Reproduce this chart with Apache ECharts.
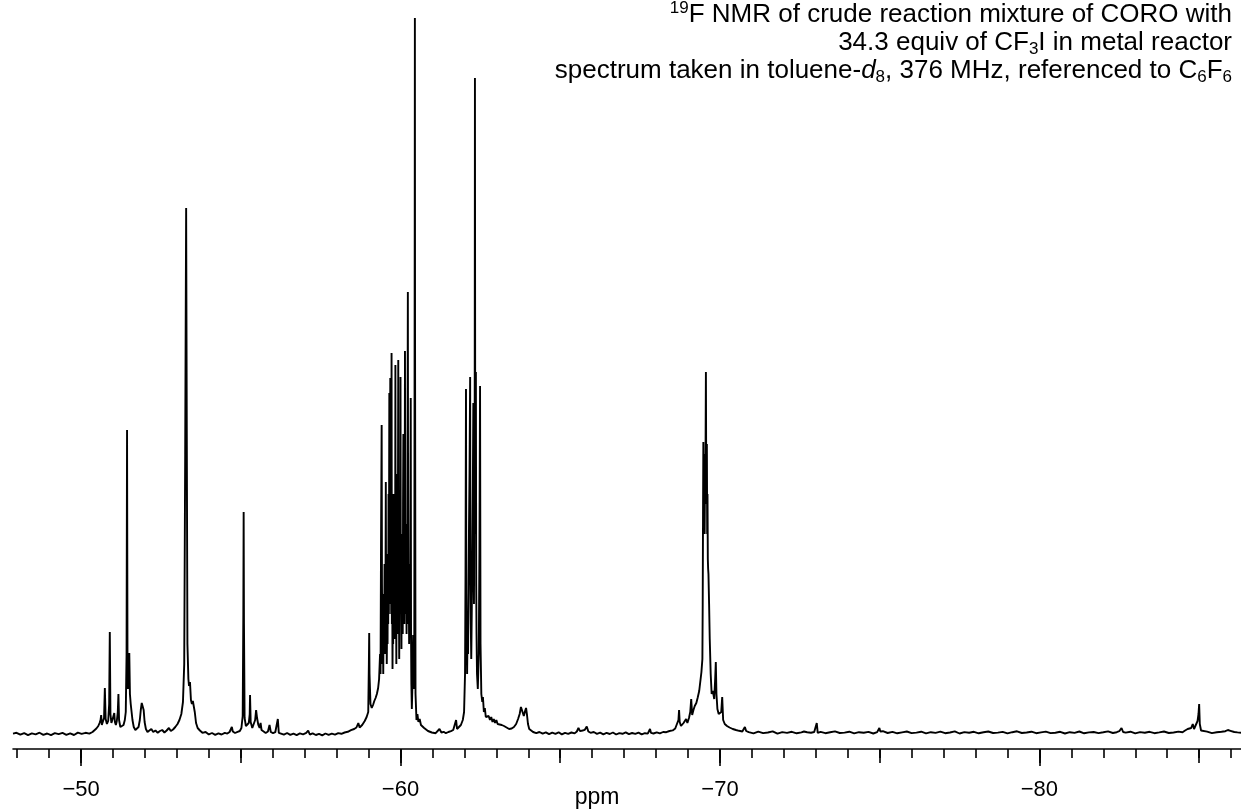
<!DOCTYPE html>
<html>
<head>
<meta charset="utf-8">
<title>19F NMR spectrum</title>
<script src="https://cdn.jsdelivr.net/npm/echarts@6/dist/echarts.min.js"></script>
<style>
  html, body { margin: 0; padding: 0; background: #fff; }
  #chart { width: 1241px; height: 812px; }
</style>
</head>
<body>
<div id="chart"></div>
<script>
// Chemical shift axis (ppm) and tick positions
const minorTicks = [-48, -49, -50, -51, -52, -53, -54, -55, -56, -57, -58, -59, -60, -61, -62, -63, -64, -65, -66, -67,
  -68, -69, -70, -71, -72, -73, -74, -75, -76, -77, -78, -79, -80, -81, -82, -83, -84, -85, -86];
const midTicks = [-50, -55, -60, -65, -70, -75, -80, -85];
const majorTicks = [-50, -60, -70, -80];

// Spectrum trace: [shift in ppm, intensity in a.u.], ordered from low field to high field
const baselineLow = [
  [-47.87, 0.4], [-47.98, 1.2], [-48.1, -0.7], [-48.22, 0.9], [-48.34, -1.1], [-48.46, 0.6], [-48.58, -0.3],
  [-48.7, 1.3], [-48.82, -0.9], [-48.94, 0.5], [-49.06, -1.2], [-49.18, 0.8], [-49.3, -0.2], [-49.42, 1.1],
  [-49.54, -0.8], [-49.66, 0.6], [-49.78, -1.0], [-49.9, 1.4], [-50.02, 0.1], [-50.14, 1.2], [-50.26, 0.4], [-50.36, 2.0]
];
const group51 = [
  [-50.42, 3.0], [-50.48, 5.5], [-50.54, 8], [-50.58, 11], [-50.61, 14], [-50.63, 19], [-50.65, 9], [-50.68, 12],
  [-50.72, 16], [-50.745, 46], [-50.77, 15], [-50.81, 10], [-50.85, 13], [-50.88, 30], [-50.9, 102], [-50.92, 20],
  [-50.95, 11], [-50.99, 15], [-51.02, 14], [-51.04, 21], [-51.06, 12], [-51.09, 9], [-51.12, 13], [-51.15, 22],
  [-51.17, 40], [-51.19, 14], [-51.23, 7], [-51.28, 6], [-51.33, 9], [-51.37, 14], [-51.4, 22], [-51.425, 80],
  [-51.44, 304], [-51.455, 60], [-51.47, 45], [-51.49, 55], [-51.51, 81], [-51.53, 40], [-51.555, 30], [-51.58, 32],
  [-51.61, 14], [-51.65, 7], [-51.7, 4], [-51.75, 3], [-51.8, 7], [-51.84, 14], [-51.87, 24], [-51.9, 31],
  [-51.93, 33], [-51.96, 24], [-51.99, 12], [-52.03, 5], [-52.08, 2], [-52.14, 3.5], [-52.2, 5], [-52.26, 2],
  [-52.33, 3.5], [-52.4, 1.2], [-52.47, 3], [-52.54, 4], [-52.61, 1.5], [-52.68, 3.5], [-52.75, 6], [-52.81, 3],
  [-52.88, 4.5], [-52.95, 7], [-53.02, 10], [-53.08, 14], [-53.14, 20], [-53.19, 32], [-53.23, 70], [-53.26, 280],
  [-53.29, 526], [-53.31, 300], [-53.33, 90], [-53.36, 55], [-53.38, 48], [-53.41, 52], [-53.44, 34], [-53.47, 30],
  [-53.5, 33], [-53.53, 35], [-53.56, 22], [-53.6, 11], [-53.65, 6]
];
const group55 = [
  [-53.72, 3.5], [-53.8, 1.2], [-53.9, 2.0], [-54.0, -0.4], [-54.1, 1.0], [-54.2, -0.8], [-54.3, 0.7], [-54.4, -0.5],
  [-54.5, 1.1], [-54.58, 0.4], [-54.65, 2.0], [-54.69, 4], [-54.72, 7], [-54.75, 2.5], [-54.82, 1.0], [-54.9, 2.2],
  [-54.97, 3.0], [-55.02, 6], [-55.06, 18], [-55.08, 120], [-55.09, 222], [-55.1, 110], [-55.12, 16], [-55.16, 8],
  [-55.21, 6], [-55.25, 11], [-55.28, 20], [-55.29, 39], [-55.31, 12], [-55.36, 6], [-55.41, 8], [-55.45, 14],
  [-55.48, 24], [-55.51, 16], [-55.55, 9], [-55.59, 6], [-55.62, 11], [-55.65, 4], [-55.71, 2], [-55.78, 1.0],
  [-55.85, 2.5], [-55.9, 9], [-55.94, 2], [-56.01, 0.8], [-56.08, 1.8], [-56.13, 3.5], [-56.16, 15], [-56.19, 1.2]
];
const baselineMid = [
  [-56.25, 0.8], [-56.35, -0.6], [-56.45, 1.0], [-56.55, -0.9], [-56.65, 0.4], [-56.75, -1.1], [-56.85, 0.6],
  [-56.95, -0.3], [-57.05, 1.2], [-57.11, 3.5], [-57.16, -0.5], [-57.25, 0.7], [-57.35, -1.0], [-57.45, 0.2],
  [-57.55, -1.3], [-57.65, 0.5], [-57.75, -0.9], [-57.85, 0.4], [-57.95, -0.6], [-58.05, 0.9], [-58.15, 0.2],
  [-58.25, 1.5], [-58.35, 2.2], [-58.45, 3.8], [-58.55, 5.0], [-58.62, 6.5], [-58.68, 11], [-58.72, 6.5],
  [-58.8, 9], [-58.88, 13], [-58.94, 17], [-58.99, 22], [-59.01, 70], [-59.02, 101], [-59.03, 60]
];
const cluster60 = [
  [-59.06, 30], [-59.1, 26], [-59.14, 29], [-59.18, 33], [-59.22, 36], [-59.26, 40], [-59.3, 46], [-59.33, 55],
  [-59.36, 80], [-59.375, 60], [-59.39, 190], [-59.41, 309], [-59.42, 150], [-59.435, 70], [-59.45, 110],
  [-59.46, 60], [-59.475, 140], [-59.49, 90], [-59.5, 170], [-59.515, 80], [-59.53, 140], [-59.54, 252],
  [-59.55, 120], [-59.56, 160], [-59.57, 70], [-59.585, 130], [-59.595, 90], [-59.605, 180], [-59.615, 110],
  [-59.625, 240], [-59.635, 120], [-59.65, 341], [-59.66, 150], [-59.67, 250], [-59.68, 356], [-59.69, 130],
  [-59.7, 210], [-59.71, 120], [-59.72, 381], [-59.73, 110], [-59.74, 160], [-59.75, 65], [-59.76, 140],
  [-59.77, 90], [-59.78, 240], [-59.79, 120], [-59.8, 190], [-59.81, 95], [-59.82, 150], [-59.83, 110],
  [-59.84, 369], [-59.85, 100], [-59.86, 150], [-59.87, 70], [-59.88, 260], [-59.89, 120], [-59.9, 190],
  [-59.91, 100], [-59.93, 374], [-59.94, 110], [-59.95, 140], [-59.96, 75], [-59.97, 160], [-59.98, 220],
  [-59.99, 130], [-60.0, 357], [-60.01, 120], [-60.02, 160], [-60.03, 85], [-60.04, 200], [-60.05, 130],
  [-60.06, 170], [-60.07, 100], [-60.08, 230], [-60.09, 300], [-60.1, 120], [-60.11, 170], [-60.12, 110],
  [-60.13, 200], [-60.14, 383], [-60.15, 140], [-60.16, 210], [-60.17, 120], [-60.18, 160], [-60.19, 100],
  [-60.2, 190], [-60.21, 130], [-60.23, 442], [-60.24, 150], [-60.25, 110], [-60.26, 140], [-60.27, 90],
  [-60.28, 170], [-60.29, 110], [-60.3, 130], [-60.32, 336], [-60.33, 100], [-60.34, 50], [-60.355, 25],
  [-60.37, 45], [-60.385, 80], [-60.395, 99], [-60.41, 50], [-60.43, 45], [-60.445, 500], [-60.45, 716],
  [-60.455, 400], [-60.47, 40]
];
const baseline61 = [
  [-60.5, 14], [-60.53, 20], [-60.56, 12], [-60.6, 15], [-60.64, 9], [-60.69, 11], [-60.74, 6], [-60.8, 7],
  [-60.86, 3], [-60.92, 4.5], [-60.98, 1.5], [-61.04, 3], [-61.1, 0.8], [-61.16, 2.5], [-61.22, 5], [-61.28, 1.5],
  [-61.35, 2.2], [-61.42, 0.8], [-61.5, 2], [-61.58, 2.8], [-61.65, 4], [-61.71, 5], [-61.74, 14], [-61.77, 5],
  [-61.83, 7], [-61.89, 9], [-61.95, 14], [-61.99, 22]
];
const cluster62 = [
  [-62.02, 60], [-62.035, 160], [-62.05, 345], [-62.06, 140], [-62.07, 100], [-62.085, 60], [-62.1, 110],
  [-62.115, 80], [-62.13, 150], [-62.145, 210], [-62.16, 260], [-62.18, 357], [-62.19, 150], [-62.2, 110],
  [-62.215, 75], [-62.23, 120], [-62.245, 170], [-62.265, 250], [-62.28, 331], [-62.29, 170], [-62.3, 130],
  [-62.31, 240], [-62.32, 200], [-62.33, 656], [-62.34, 230], [-62.35, 200], [-62.36, 362], [-62.37, 150],
  [-62.38, 100], [-62.395, 60], [-62.42, 45], [-62.45, 80], [-62.47, 180], [-62.49, 348], [-62.505, 90],
  [-62.53, 40], [-62.56, 32], [-62.58, 37], [-62.61, 22], [-62.64, 26], [-62.67, 17], [-62.7, 19], [-62.73, 15],
  [-62.76, 18], [-62.8, 14], [-62.84, 17], [-62.88, 12], [-62.92, 15], [-62.96, 11], [-63.0, 14], [-63.04, 10],
  [-63.1, 11], [-63.17, 9], [-63.24, 8], [-63.32, 6.5], [-63.4, 5], [-63.48, 5.5], [-63.55, 7], [-63.62, 10],
  [-63.68, 15], [-63.73, 20], [-63.77, 27], [-63.79, 29], [-63.82, 22], [-63.86, 18], [-63.9, 23], [-63.93, 26],
  [-63.96, 19], [-63.99, 10], [-64.03, 5], [-64.08, 3.5], [-64.15, 2]
];
const baseline66 = [
  [-64.25, 0.8], [-64.35, 2.0], [-64.45, 0.3], [-64.55, 1.6], [-64.65, -0.2], [-64.75, 1.3], [-64.85, 0.1],
  [-64.95, 1.7], [-65.05, -0.4], [-65.15, 1.2], [-65.25, 0.2], [-65.35, 1.5], [-65.45, 0.6], [-65.52, 2.5],
  [-65.57, 6], [-65.62, 2.8], [-65.7, 3.5], [-65.77, 4.2], [-65.83, 7.5], [-65.88, 2.5], [-65.95, 1.2],
  [-66.05, 2.0], [-66.15, 0.2], [-66.25, 1.4], [-66.35, -0.3], [-66.45, 1.1], [-66.55, 0.0], [-66.65, 1.5],
  [-66.75, -0.5], [-66.85, 0.9], [-66.95, 0.2], [-67.05, 1.6], [-67.15, -0.2], [-67.25, 1.0], [-67.35, 0.1],
  [-67.45, 1.4], [-67.55, -0.4], [-67.65, 0.8], [-67.74, 0.4], [-67.78, 1.5], [-67.81, 5], [-67.84, 1.2],
  [-67.92, 0.5], [-68.02, 1.7], [-68.12, 0.6], [-68.22, 2.0], [-68.32, 1.8], [-68.42, 3.0], [-68.52, 3.6],
  [-68.6, 5.5], [-68.66, 7]
];
const group70 = [
  [-68.7, 14], [-68.72, 24], [-68.74, 12], [-68.78, 8], [-68.82, 9], [-68.86, 11], [-68.9, 10], [-68.94, 15],
  [-68.98, 11], [-69.03, 16], [-69.07, 22], [-69.1, 35], [-69.13, 19], [-69.17, 24], [-69.21, 28], [-69.26, 31],
  [-69.3, 36], [-69.35, 43], [-69.39, 45], [-69.42, 62], [-69.45, 75], [-69.46, 130], [-69.47, 220], [-69.48, 292],
  [-69.49, 210], [-69.5, 260], [-69.51, 280], [-69.52, 200], [-69.53, 250], [-69.54, 230], [-69.55, 290],
  [-69.56, 362], [-69.57, 260], [-69.58, 230], [-69.59, 290], [-69.6, 200], [-69.61, 240], [-69.62, 175],
  [-69.63, 165], [-69.64, 160], [-69.66, 130], [-69.68, 95], [-69.71, 60], [-69.74, 40], [-69.78, 43],
  [-69.82, 35], [-69.85, 55], [-69.87, 72], [-69.89, 40], [-69.92, 25], [-69.96, 20], [-70.0, 18], [-70.04, 22],
  [-70.07, 37], [-70.1, 14], [-70.15, 10], [-70.22, 8], [-70.3, 6.5], [-70.4, 5], [-70.5, 4], [-70.6, 3.2],
  [-70.7, 2.5], [-70.75, 4], [-70.78, 7], [-70.82, 3]
];
const baselineHigh = [
  [-70.9, 1.8], [-71.05, 0.6], [-71.2, 2.4], [-71.35, 0.9], [-71.5, 1.5], [-71.65, 2.7], [-71.8, 0.4],
  [-71.95, 1.9], [-72.1, 1.1], [-72.25, 2.2], [-72.4, 0.7], [-72.55, 1.6], [-72.63, 2.5], [-72.68, 4.5],
  [-72.73, 1.8], [-72.85, 1.3], [-72.95, 2.0], [-73.0, 3.5], [-73.03, 11], [-73.06, 1.2], [-73.15, 2.1],
  [-73.3, 0.8], [-73.45, 1.7], [-73.6, 2.6], [-73.75, 1.0], [-73.9, 1.4], [-74.05, 2.3], [-74.2, 0.6],
  [-74.35, 1.8], [-74.5, 1.2], [-74.65, 2.1], [-74.8, 0.5], [-74.92, 1.9], [-74.96, 3.0], [-74.99, 6],
  [-75.02, 2.5], [-75.1, 2.8], [-75.25, 1.0], [-75.4, 2.2], [-75.55, 0.7], [-75.7, 1.6], [-75.85, 2.5],
  [-76.0, 0.9], [-76.15, 1.4], [-76.3, 2.3], [-76.45, 0.6], [-76.6, 1.8], [-76.75, 1.1], [-76.9, 2.4],
  [-77.05, 0.8], [-77.2, 1.5], [-77.35, 2.6], [-77.5, 0.5], [-77.65, 1.9], [-77.8, 1.2], [-77.95, 2.2],
  [-78.1, 0.7], [-78.25, 1.7], [-78.4, 2.5], [-78.55, 1.0], [-78.7, 1.4], [-78.85, 2.1], [-79.0, 0.6],
  [-79.15, 1.8], [-79.3, 2.7], [-79.45, 1.0], [-79.6, 1.5], [-79.75, 2.3], [-79.9, 0.8], [-80.05, 1.6],
  [-80.2, 2.4], [-80.35, 0.9], [-80.5, 1.3], [-80.65, 2.2], [-80.8, 0.5], [-80.95, 1.8], [-81.1, 1.1],
  [-81.25, 2.5], [-81.4, 0.7], [-81.55, 1.6], [-81.7, 2.0], [-81.85, 0.9], [-82.0, 1.7], [-82.15, 2.6],
  [-82.3, 1.0], [-82.42, 1.8], [-82.5, 2.8], [-82.57, 6], [-82.62, 2.0], [-82.7, 1.4], [-82.85, 2.3],
  [-83.0, 0.6], [-83.15, 1.9], [-83.3, 1.2], [-83.45, 2.2], [-83.6, 0.8], [-83.75, 1.6], [-83.9, 2.5],
  [-84.05, 1.0], [-84.2, 1.5], [-84.35, 2.4], [-84.48, 1.8], [-84.56, 3.5], [-84.64, 5], [-84.7, 3.8],
  [-84.75, 6], [-84.8, 10], [-84.84, 5], [-84.9, 7], [-84.95, 13], [-84.98, 20], [-85.0, 30], [-85.02, 10],
  [-85.06, 3.5], [-85.12, 1.8], [-85.25, 2.4], [-85.4, 0.9], [-85.55, 1.7], [-85.7, 2.3], [-85.82, 2.8],
  [-85.9, 4.0], [-85.94, 4.5], [-85.98, 3.2], [-86.04, 4.2], [-86.1, 2.0], [-86.2, 1.6], [-86.31, 1.2]
];

const spectrum = [].concat(baselineLow, group51, group55, baselineMid, cluster60, baseline61,
  cluster62, baseline66, group70, baselineHigh);

const FONT = "'Liberation Sans', Arial, Helvetica, sans-serif";
const X_RANGE = { min: -86.31, max: -47.87 };

function shiftAxis(ticks, tickLen, withLabels, withLine) {
  return {
    type: 'value',
    gridIndex: 0,
    position: 'bottom',
    inverse: true,
    min: X_RANGE.min,
    max: X_RANGE.max,
    splitLine: { show: false },
    axisLine: { show: withLine, onZero: false, lineStyle: { color: '#000', width: 1.6 } },
    axisTick: {
      show: true,
      customValues: ticks,
      length: tickLen,
      lineStyle: { color: '#000', width: 1.6 }
    },
    axisLabel: withLabels ? {
      show: true,
      customValues: ticks,
      margin: 30,
      color: '#000',
      fontFamily: FONT,
      fontSize: 22,
      formatter: v => '\u2212' + Math.abs(v)
    } : { show: false }
  };
}

const titleRich = {
  sup: { fontSize: 17, lineHeight: 20, verticalAlign: 'top', fontFamily: FONT, fill: '#000' },
  sub: { fontSize: 17, lineHeight: 18, verticalAlign: 'bottom', fontFamily: FONT, fill: '#000' },
  it: { fontSize: 26, lineHeight: 30, fontStyle: 'italic', fontFamily: FONT, fill: '#000' }
};

function titleLine(text, y) {
  return {
    type: 'text',
    x: 1232,
    y: y,
    silent: true,
    style: {
      text: text,
      align: 'right',
      verticalAlign: 'middle',
      fontFamily: FONT,
      fontSize: 26,
      lineHeight: 30,
      fill: '#000',
      rich: titleRich
    }
  };
}

const chart = echarts.init(document.getElementById('chart'), null, { renderer: 'canvas' });
chart.setOption({
  backgroundColor: '#fff',
  animation: false,
  grid: { left: 13, right: 0, top: 18, bottom: 63, outerBoundsMode: 'none' },
  xAxis: [
    shiftAxis(minorTicks, 9, false, true),
    shiftAxis(midTicks, 14, false, false),
    shiftAxis(majorTicks, 17, true, false)
  ],
  yAxis: { type: 'value', min: -15, max: 716, show: false },
  series: [{
    type: 'line',
    xAxisIndex: 0,
    data: spectrum,
    showSymbol: false,
    symbol: 'none',
    lineStyle: { color: '#000', width: 1.9 },
    emphasis: { disabled: true }
  }],
  graphic: [
    titleLine('{sup|19}F NMR of crude reaction mixture of CORO with', 15),
    titleLine('34.3 equiv of CF{sub|3}I in metal reactor', 43),
    titleLine('spectrum taken in toluene-{it|d}{sub|8}, 376 MHz, referenced to C{sub|6}F{sub|6}', 71),
    {
      type: 'text',
      x: 597,
      y: 798,
      silent: true,
      style: { text: 'ppm', align: 'center', verticalAlign: 'middle', fontFamily: FONT, fontSize: 23, fill: '#000' }
    }
  ]
});
</script>
</body>
</html>
